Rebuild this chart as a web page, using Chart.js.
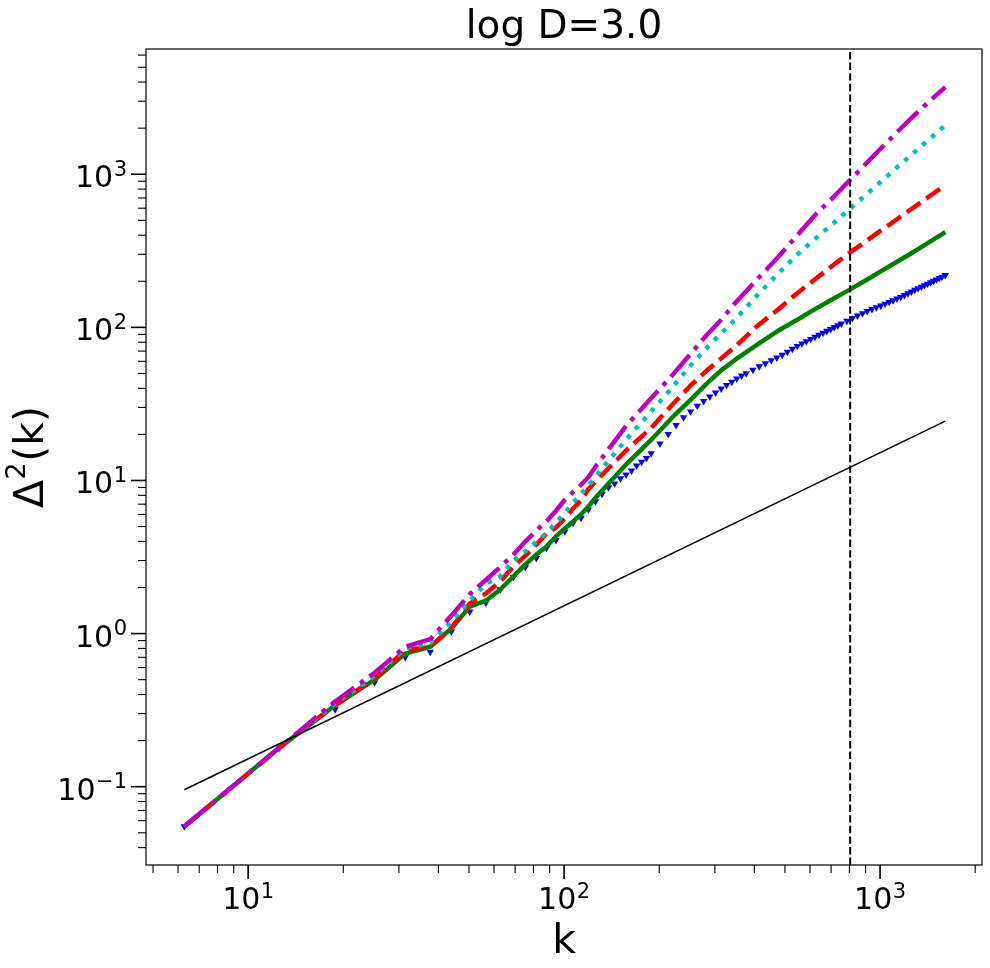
<!DOCTYPE html>
<html>
<head>
<meta charset="utf-8">
<script src="https://cdn.jsdelivr.net/npm/chart.js@4.4.1/dist/chart.umd.min.js"></script>
<style>
  html, body { margin: 0; padding: 0; background: #fff; }
  #chart { display: block; }
</style>
</head>
<body>
<canvas id="chart" width="990" height="968"></canvas>
<script>
// k of the line series (binned modes)
const kLine = [6.28, 12.57, 18.85, 25.13, 31.42, 37.70, 43.98, 50.27, 56.55, 62.83,
  69.12, 75.40, 81.68, 87.96, 94.25, 100.53, 106.81, 113.10, 119.38, 125.66,
  157.08, 188.50, 219.91, 251.33, 282.74, 314.16, 345.58, 408.41, 471.24, 546.64,
  628.32, 716.28, 804.25, 904.78, 1005.31, 1130.97, 1256.64, 1432.57, 1608.50];

const greenVals = [0.055, 0.18, 0.34, 0.50, 0.74, 0.82, 1.08, 1.50, 1.64, 1.94,
  2.36, 2.83, 3.28, 3.70, 4.31, 4.86, 5.40, 6.0, 6.76, 7.7,
  12.7, 18.4, 25.8, 33.6, 42.9, 52.4, 60.8, 77.2, 93.9, 112,
  133, 155, 177, 204, 232, 268, 305, 360, 419];

const redVals = [0.055, 0.18, 0.34, 0.51, 0.78, 0.82, 1.09, 1.57, 1.83, 2.19,
  2.74, 3.23, 3.81, 4.50, 4.93, 5.65, 6.56, 7.4, 8.75, 9.85,
  15.7, 22.0, 31.2, 41.7, 52.2, 62.7, 73.9, 102, 129, 167,
  209, 258, 309, 367, 428, 508, 593, 718, 850];

const cyanVals = [0.055, 0.18, 0.35, 0.53, 0.80, 0.87, 1.20, 1.64, 2.11, 2.37,
  3.0, 3.44, 3.98, 4.55, 5.28, 6.17, 7.16, 8.17, 9.3, 10.6,
  18.5, 28.2, 40.5, 56.4, 73.3, 91.5, 111, 162, 220, 298,
  385, 484, 597, 739, 894, 1107, 1339, 1697, 2090];

const magentaVals = [0.055, 0.18, 0.36, 0.555, 0.82, 0.92, 1.31, 1.81, 2.24, 2.72,
  3.28, 3.99, 4.71, 5.41, 6.35, 7.48, 8.42, 9.37, 10.5, 12.3,
  22.7, 34.4, 48.6, 67.2, 89.1, 112, 142, 206, 282, 399,
  553, 718, 920, 1180, 1472, 1882, 2330, 3000, 3705];

// k of the marker series
const kBlue = [6.28, 12.57, 18.85, 25.13, 31.42, 37.70, 43.98, 50.27, 56.55, 62.83,
  69.12, 75.40, 81.68, 87.96, 94.25, 100.53, 106.81, 113.10, 119.38, 125.66,
  131.95, 138.23, 144.51, 150.80, 157.08, 163.36, 169.65, 175.93, 182.21, 188.50,
  201.06, 213.63, 226.19, 238.76, 251.33, 263.89, 276.46, 289.03, 301.59, 314.16,
  326.73, 339.29, 351.86, 364.42, 376.99,
  395.84, 414.69, 433.54, 452.39, 471.24, 490.09, 508.94, 527.79, 546.64, 565.49,
  584.34, 603.19, 622.04, 640.88, 659.73, 678.58, 697.43, 716.28, 735.13, 753.98,
  785.40, 816.81, 848.23, 879.65, 911.06, 942.48, 973.89, 1005.31, 1036.73, 1068.14,
  1099.56, 1130.97, 1162.39, 1193.81, 1225.22, 1256.64, 1288.05, 1319.47, 1350.88, 1382.30,
  1413.72, 1445.13, 1476.55, 1507.96, 1539.38, 1570.80, 1608.50];

const blueVals = [0.055, 0.18, 0.32, 0.48, 0.70, 0.76, 1.03, 1.39, 1.59, 1.94,
  2.34, 2.72, 3.11, 3.62, 4.08, 4.64, 5.27, 5.69, 6.46, 7.29,
  8.16, 9.0, 9.55, 10.3, 10.9, 11.6, 12.5, 13.2, 14.0, 15.0,
  17.4, 20.1, 23.0, 25.8, 28.2, 30.7, 33.0, 35.3, 37.5, 39.8,
  41.9, 44.0, 46.3, 48.3, 50.1,
  52.8, 55.6, 58.2, 60.8, 63.4, 66.1, 69.1, 72.3, 75.5, 78.4,
  81.1, 83.9, 86.5, 89.2, 91.9, 94.7, 97.3, 100.2, 102.9, 105.6,
  110.2, 114.7, 119.2, 123.5, 127.5, 131.3, 134.9, 138.7, 142.5, 146.3,
  150.1, 153.9, 157.7, 162.2, 166.7, 170.9, 175.4, 179.9, 184.1, 188.3,
  192.6, 196.8, 201.3, 205.3, 209.8, 213.9, 219.1];

// thin reference line and the dashed vertical marker
const kRef = [6.28, 1608.50];
const refVals = [0.0955, 24.4];
const kVertical = 804.25;

// axes
const xMin = 4.75, xMax = 2102;
const yMin = 0.0308, yMax = 6577;
const xTickValues = [10, 100, 1000];
const xTickExps = ['1', '2', '3'];
const yTickValues = [0.1, 1, 10, 100, 1000];
const yTickExps = ['\u22121', '0', '1', '2', '3'];

const titleText = 'log D=3.0';
const xTitle = 'k';

const FONT = '"DejaVu Sans"';

const toPoints = (xs, ys) => xs.map((x, i) => ({ x, y: ys[i] }));

// minor ticks at 2..9 x 10^e inside the axis range
function minorTicks(min, max) {
    const out = [];
    for (let e = Math.floor(Math.log10(min)); e <= Math.ceil(Math.log10(max)); e++) {
        for (let m = 2; m <= 9; m++) {
            const v = m * Math.pow(10, e);
            if (v >= min && v <= max) out.push(v);
        }
    }
    return out;
}

// "10" with a raised exponent, baseline at y
function drawPower(ctx, exp, x, y, align) {
    ctx.font = '30px ' + FONT;
    const wb = ctx.measureText('10').width;
    ctx.font = '21px ' + FONT;
    const we = ctx.measureText(exp).width;
    const total = wb + 0.5 + we;
    const x0 = align === 'right' ? x - total : x - total / 2;
    ctx.textAlign = 'left';
    ctx.textBaseline = 'alphabetic';
    ctx.font = '30px ' + FONT;
    ctx.fillText('10', x0, y);
    ctx.font = '21px ' + FONT;
    ctx.fillText(exp, x0 + wb + 0.5, y - 11.5);
}

const frameAndTicks = {
    id: 'frameAndTicks',
    afterDraw(chart) {
        const { ctx, chartArea: a, scales: { x, y } } = chart;
        ctx.save();
        ctx.strokeStyle = '#000';
        ctx.fillStyle = '#000';
        ctx.lineWidth = 1.2;
        ctx.strokeRect(a.left, a.top, a.right - a.left, a.bottom - a.top);

        const seg = (x0, y0, x1, y1, w) => {
            ctx.lineWidth = w;
            ctx.beginPath();
            ctx.moveTo(x0, y0);
            ctx.lineTo(x1, y1);
            ctx.stroke();
        };
        xTickValues.forEach((v, i) => {
            const px = x.getPixelForValue(v);
            seg(px, a.bottom, px, a.bottom + 14, 1.6);
            drawPower(ctx, xTickExps[i], px, a.bottom + 44, 'center');
        });
        minorTicks(xMin, xMax).forEach(v => {
            const px = x.getPixelForValue(v);
            seg(px, a.bottom, px, a.bottom + 8, 1.1);
        });
        yTickValues.forEach((v, i) => {
            const py = y.getPixelForValue(v);
            seg(a.left, py, a.left - 15, py, 1.6);
            drawPower(ctx, yTickExps[i], a.left - 19, py + 13, 'right');
        });
        minorTicks(yMin, yMax).forEach(v => {
            const py = y.getPixelForValue(v);
            seg(a.left, py, a.left - 8, py, 1.1);
        });

        // y axis title: Delta^2(k), rotated
        ctx.save();
        ctx.translate(43, (a.top + a.bottom) / 2);
        ctx.rotate(-Math.PI / 2);
        ctx.textBaseline = 'alphabetic';
        ctx.textAlign = 'left';
        ctx.font = '41px ' + FONT;
        const wD = ctx.measureText('\u0394').width;
        const wK = ctx.measureText('(k)').width;
        ctx.font = '27px ' + FONT;
        const w2 = ctx.measureText('2').width;
        const start = -(wD + w2 + 1 + wK) / 2;
        ctx.font = '41px ' + FONT;
        ctx.fillText('\u0394', start, 0);
        ctx.font = '27px ' + FONT;
        ctx.fillText('2', start + wD + 0.5, -18);
        ctx.font = '41px ' + FONT;
        ctx.fillText('(k)', start + wD + w2 + 1, 0);
        ctx.restore();

        ctx.restore();
    }
};

const lineStyle = (color, dash) => ({
    borderColor: color,
    backgroundColor: color,
    borderWidth: 4.5,
    borderDash: dash,
    borderJoinStyle: 'round',
    pointRadius: 0,
    fill: false,
    tension: 0
});

new Chart(document.getElementById('chart').getContext('2d'), {
    type: 'line',
    data: {
        datasets: [
            {
                label: 'nyquist',
                data: [{ x: kVertical, y: yMin }, { x: kVertical, y: yMax }],
                borderColor: '#000',
                borderWidth: 2,
                borderDash: [7.4, 3.2],
                pointRadius: 0
            },
            {
                label: 'reference',
                data: toPoints(kRef, refVals),
                borderColor: '#000',
                borderWidth: 1.5,
                pointRadius: 0
            },
            { label: 'm', data: toPoints(kLine, magentaVals), ...lineStyle('#bf00bf', [28.8, 7.2, 4.5, 7.2]) },
            { label: 'c', data: toPoints(kLine, cyanVals), ...lineStyle('#00bfbf', [4.5, 7.4]) },
            { label: 'r', data: toPoints(kLine, redVals), ...lineStyle('#ff0000', [16.7, 7.2]) },
            { label: 'g', data: toPoints(kLine, greenVals), ...lineStyle('#008000', []) },
            {
                label: 'b',
                data: toPoints(kBlue, blueVals),
                showLine: false,
                pointStyle: 'triangle',
                rotation: 180,
                pointRadius: 4.3,
                pointBackgroundColor: '#0000ff',
                pointBorderWidth: 0
            }
        ]
    },
    options: {
        responsive: false,
        animation: false,
        devicePixelRatio: 1,
        layout: { padding: { left: 0, right: 8, top: 0, bottom: 0 } },
        plugins: {
            legend: { display: false },
            tooltip: { enabled: false },
            title: {
                display: true,
                text: titleText,
                fullSize: false,
                color: '#000',
                font: { family: 'DejaVu Sans', size: 39, weight: 'normal', lineHeight: 1.1 },
                padding: { top: 6, bottom: 0.1 }
            }
        },
        scales: {
            x: {
                type: 'logarithmic',
                min: xMin,
                max: xMax,
                grid: { display: false, drawTicks: false },
                border: { display: false },
                afterFit: s => { s.height = 103; },
                ticks: { display: false },
                title: {
                    display: true,
                    text: xTitle,
                    color: '#000',
                    font: { family: 'DejaVu Sans', size: 41 },
                    padding: { top: 0, bottom: 1 }
                }
            },
            y: {
                type: 'logarithmic',
                min: yMin,
                max: yMax,
                grid: { display: false, drawTicks: false },
                border: { display: false },
                afterFit: s => { s.width = 146; },
                ticks: { display: false }
            }
        }
    },
    plugins: [frameAndTicks]
});
</script>
</body>
</html>
